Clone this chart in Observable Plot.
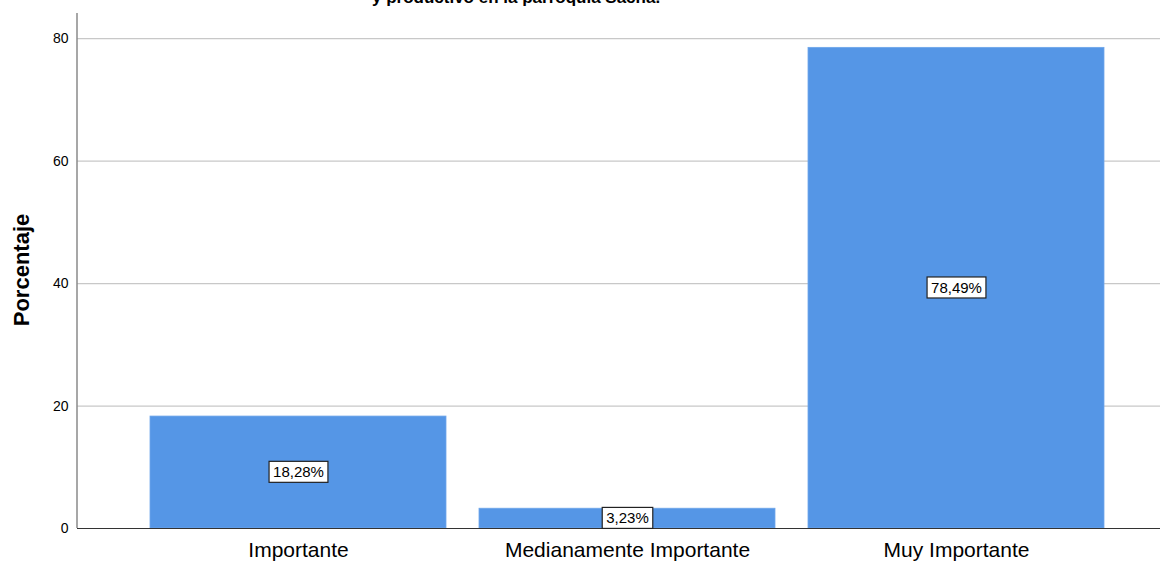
<!DOCTYPE html>
<html>
<head>
<meta charset="utf-8">
<script src="https://cdn.jsdelivr.net/npm/d3@7"></script>
<script src="https://cdn.jsdelivr.net/npm/@observablehq/plot@0.6"></script>
<style>
  html, body { margin: 0; padding: 0; background: #fff; }
  #wrap { position: relative; width: 1165px; height: 563px; overflow: hidden; font-family: "Liberation Sans", Arial, sans-serif; }
  #title { position: absolute; left: 372px; top: -11px; font-size: 17px; font-weight: bold; line-height: 17px; white-space: nowrap; color: #000; }
  #ylabel { position: absolute; left: 22px; top: 270px; transform: translate(-50%, -50%) rotate(-90deg); font-size: 22px; font-weight: bold; white-space: nowrap; }
</style>
</head>
<body>
<div id="wrap">
  <div id="chart"></div>
  <div id="title">y productivo en la parroquia Sacha.</div>
  <div id="ylabel">Porcentaje</div>
</div>
<script>
const categories = ["Importante", "Medianamente Importante", "Muy Importante"];
const values = [18.28, 3.23, 78.49];
const labels = ["18,28%", "3,23%", "78,49%"];
const yTicks = [0, 20, 40, 60, 80];

const data = categories.map((c, i) => ({cat: c, value: values[i], label: labels[i]}));

const leftAxisLine = (index, scales, vals, dims) => {
  const ns = "http://www.w3.org/2000/svg";
  const l = document.createElementNS(ns, "line");
  l.setAttribute("x1", dims.marginLeft);
  l.setAttribute("x2", dims.marginLeft);
  l.setAttribute("y1", dims.marginTop);
  l.setAttribute("y2", dims.height - dims.marginBottom);
  l.setAttribute("stroke", "#8a8a8a");
  l.setAttribute("stroke-width", 1.5);
  return l;
};

const chart = Plot.plot({
  width: 1165,
  height: 563,
  marginLeft: 77,
  marginRight: 5,
  marginTop: 13,
  marginBottom: 35,
  style: {fontFamily: "'Liberation Sans', Arial, sans-serif", background: "#fff"},
  x: {domain: categories, range: [133, 1122], paddingInner: 0.1, paddingOuter: 0.05, label: null},
  y: {domain: [0, 84.1], label: null},
  marks: [
    Plot.gridY(yTicks.filter(d => d > 0), {stroke: "#c8c8c8", strokeOpacity: 1, strokeWidth: 1.2}),
    Plot.barY(data, {x: "cat", y: "value", fill: "#5596e6", stroke: "#6ea6ea", strokeWidth: 0.8}),
    Plot.ruleY([0], {stroke: "#333", strokeWidth: 1.2}),
    leftAxisLine,
    Plot.axisY({ticks: yTicks, tickSize: 0, tickPadding: 9, fontSize: 14, label: null, tickFormat: d => d}),
    Plot.axisX({tickSize: 0, tickPadding: 14, fontSize: 21, label: null}),
    Plot.text(data, {x: "cat", y: d => d.value / 2, text: "label", fontSize: 15, fill: "#000", className: "vlabel"})
  ]
});
document.getElementById("chart").appendChild(chart);

// white boxes behind value labels, sized from rendered text
d3.select(chart).selectAll(".vlabel text").each(function() {
  const b = this.getBBox();
  const padX = 4, padY = 3;
  d3.select(this.parentNode).insert("rect", () => this)
    .attr("x", b.x - padX).attr("y", b.y - padY + 1)
    .attr("width", b.width + 2 * padX).attr("height", b.height + 2 * padY - 2)
    .attr("fill", "#fff").attr("stroke", "#222").attr("stroke-width", 1.2)
    .attr("transform", this.getAttribute("transform"));
});
</script>
</body>
</html>
